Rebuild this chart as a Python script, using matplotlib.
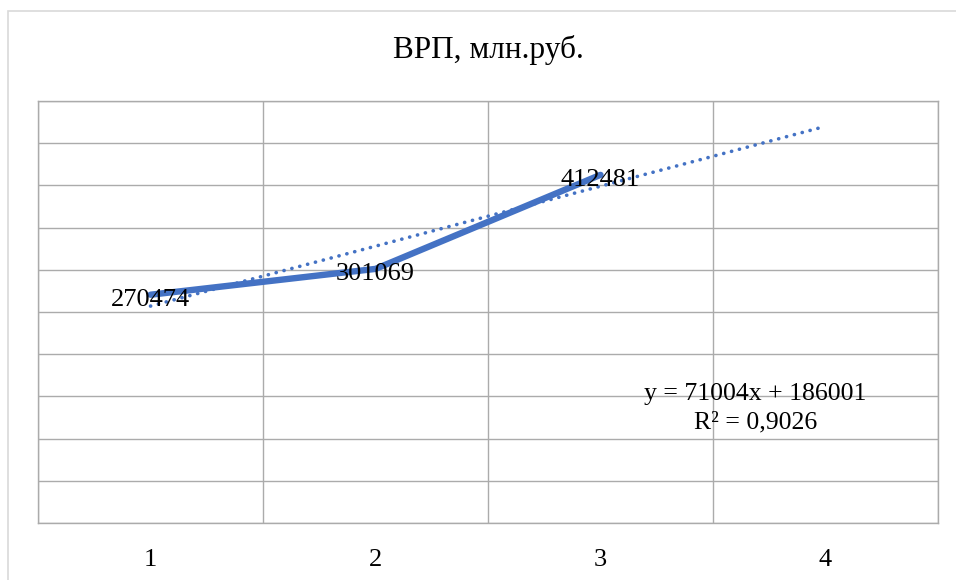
import numpy as np
import matplotlib
matplotlib.use("Agg")
import matplotlib.pyplot as plt
from matplotlib.patches import Rectangle

# data
years = [1, 2, 3]
vrp = [270474, 301069, 412481]
categories = ["1", "2", "3", "4"]
title = "ВРП, млн.руб."

plt.rcParams['font.family'] = ['Liberation Serif', 'DejaVu Serif']

blue = '#4472C4'
grid_col = '#ABABAB'

fig = plt.figure(figsize=(9.56, 5.80), dpi=100)

# outer chart frame (light gray, cut off at right/bottom like the screenshot)
fig.patches.append(Rectangle((8 / 956, -0.05), 1.0, (580 - 11) / 580 + 0.05,
                             transform=fig.transFigure, fill=False,
                             edgecolor='#D9D9D9', linewidth=1.2))

ax = fig.add_axes([38 / 956, (580 - 523) / 580, 900 / 956, 422 / 580])
ax.set_xlim(0.5, 4.5)
ax.set_ylim(0, 500000)
ax.set_yticks(np.arange(0, 500001, 50000))
ax.set_xticks(np.arange(0.5, 4.51, 1.0))
ax.set_xticklabels([])
ax.set_yticklabels([])
ax.grid(True, color=grid_col, linewidth=1.0)
ax.tick_params(length=0)
for s in ax.spines.values():
    s.set_color(grid_col)
    s.set_linewidth(1.0)

# category labels under the plot
for i, lab in enumerate(categories):
    ax.text(i + 1, -0.087, lab, transform=ax.get_xaxis_transform(),
            ha='center', va='center', fontsize=19)

# main line
ax.plot(years, vrp, color=blue, linewidth=4.6, solid_capstyle='round', zorder=3)

# linear trend, forecast one period forward
k, b = np.polyfit(years, vrp, 1)
fit = np.polyval([k, b], years)
r2 = 1 - np.sum((np.array(vrp) - fit) ** 2) / np.sum((np.array(vrp) - np.mean(vrp)) ** 2)
xt = np.array([1, 4])
ax.plot(xt, k * xt + b, color=blue, linewidth=2.6, linestyle=(0, (0.05, 2.2)),
        dash_capstyle='round', zorder=4)

# data labels
for x, v in zip(years, vrp):
    ax.annotate(str(v), (x, v), xytext=(0, -3.5), textcoords='offset points',
                ha='center', va='center', fontsize=19, zorder=5)

eq = f"y = {k:.0f}x + {b:.0f}\nR² = {r2:.4f}".replace('.', ',')
ax.text(0.797, 0.272, eq, transform=ax.transAxes, ha='center', va='center',
        multialignment='center', fontsize=18.5, linespacing=1.4, zorder=5)

fig.text(488 / 956, 1 - 50 / 580, title, ha='center', va='center', fontsize=22.5)

fig.savefig("out.png", dpi=100)
